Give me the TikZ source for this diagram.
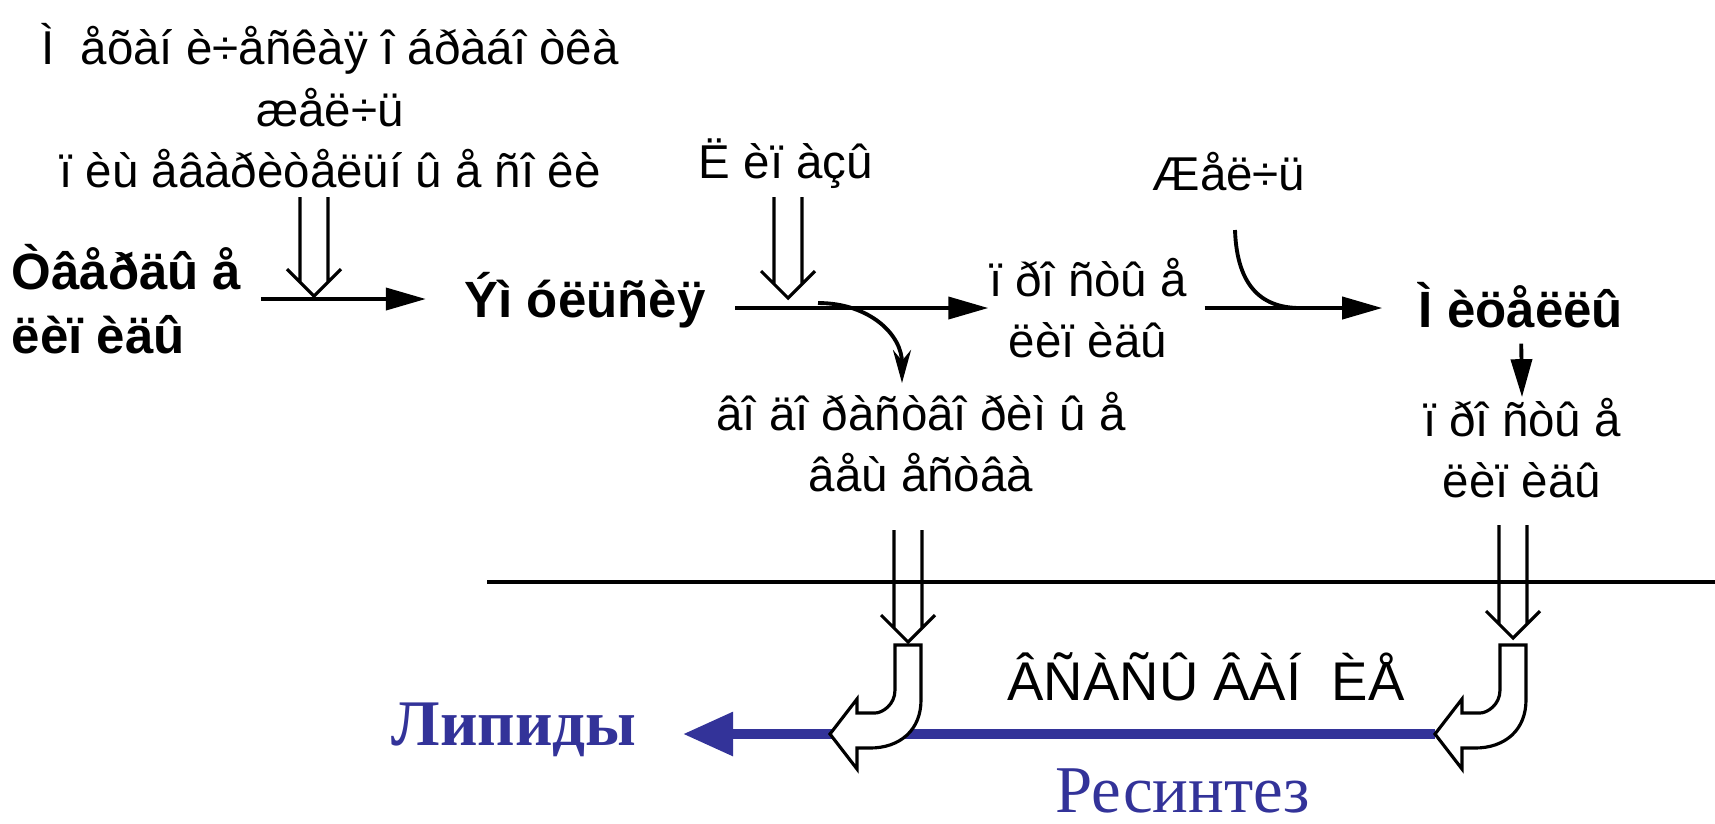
\documentclass[tikz,border=0pt]{standalone}
\usepackage{fontspec}
\setmainfont{Liberation Sans}
\newfontfamily\cyrserif{Liberation Serif}
\usetikzlibrary{arrows.meta,positioning,calc}
\definecolor{resblue}{RGB}{51,51,153}

\tikzset{
  txt/.style={font=\fontsize{13.5}{17.5}\selectfont, align=center, inner sep=0pt},
  txtb/.style={font=\fontsize{14.5}{18}\selectfont\bfseries, align=center, inner sep=0pt},
  flow/.style={line width=1.1pt, -{Triangle[length=4mm,width=2.2mm]}},
  bendline/.style={line width=1.1pt},
  hollow/.style={line width=0.9pt},
  resyn/.style={draw=resblue, line width=2.6pt, -{Triangle[length=5mm,width=4.2mm]}},
}

% open double arrow pointing down: #1 top, #2 tip
\newcommand{\dbldown}[2]{%
  \draw[hollow] ($(#1)+(-14,0)$) -- ($(#2)+(-14,-14)$)
                ($(#1)+(14,0)$) -- ($(#2)+(14,-14)$)
                ($(#2)+(-27,-27)$) -- (#2) -- ($(#2)+(27,-27)$);}

% open bent arrow, down then left: #1 top left corner of the shaft
\newcommand{\bentleft}[1]{%
  \draw[hollow, fill=white] (#1) -- ++(0,45)
    .. controls +(0,15) and +(7,0) .. ++(-20,23) -- ++(-18,0) -- ++(0,-14)
    -- ++(-27,35) -- ++(27,35) -- ++(0,-21) -- ++(13,0)
    .. controls +(30,0) and +(0,30) .. ++(51,-48) -- ++(0,-55) -- cycle;}

\begin{document}
\begin{tikzpicture}[x=0.01cm, y=-0.01cm]
  \useasboundingbox (0,0) rectangle (1715,823);

  %--- upper row ---
  \node[txt] (mech) at (330,106) {Ì~~åõàí è÷åñêàÿ î áðàáî òêà\\æåë÷ü\\ï èù åâàðèòåëüí û å ñî êè};
  \node[txtb, align=left, anchor=west] (solid) at (11,299) {Òâåðäû å\\ëèï èäû};
  \node[txtb] (emul) at (585,300) {Ýì óëüñèÿ};
  \node[txt] (lipase) at (786,164) {Ë èï àçû};
  \node[txt] (simple1) at (1088,308) {ï ðî ñòû å\\ëèï èäû};
  \node[txt] (water) at (921,442) {âî äî ðàñòâî ðèì û å\\âåù åñòâà};
  \node[txt] (bile) at (1229,172) {Æåë÷ü};
  \node[txtb] (micel) at (1521,305) {Ì èöåëëû};
  \node[txt] (simple2) at (1522,448) {ï ðî ñòû å\\ëèï èäû};

  \draw[flow, shorten <=1.9mm, shorten >=3.8mm] (solid.east) -- (emul.west |- solid.east);
  \draw[flow, shorten <=2.9mm] (emul.east |- simple1.west) -- (simple1.west);
  \draw[flow, shorten <=1.7mm, shorten >=3.6mm] (simple1.east) -- (micel.west |- simple1.east);
  \draw[line width=1.1pt, -{Triangle[length=3.8mm,width=2.1mm]}, shorten <=1.5mm] (micel.south) -- (simple2.north);

  % enzymes and bile
  \coordinate (t1) at (314,197); \coordinate (p1) at (314,296);
  \coordinate (t2) at (788,197); \coordinate (p2) at (788,298);
  \dbldown{t1}{p1}
  \dbldown{t2}{p2}

  \coordinate (c1s) at (818,303); \coordinate (c1e) at (902,383);
  \draw[bendline, -{Stealth[length=3.3mm,width=1.8mm]}] (c1s) .. controls (870,303) and (902,335) .. (c1e);
  \coordinate (c2s) at (1235,230); \coordinate (c2e) at (1300,308);
  \draw[bendline] (c2s) .. controls (1237,290) and (1265,308) .. (c2e);

  %--- membrane ---
  \draw[line width=1.1pt] (487,582) -- (1715,582);
  \coordinate (t3) at (908,530); \coordinate (p3) at (908,642);
  \coordinate (t4) at (1513,525); \coordinate (p4) at (1513,638);
  \dbldown{t3}{p3}
  \dbldown{t4}{p4}

  \node[font=\fontsize{15.5}{18}\selectfont, inner sep=0pt, anchor=base] (absorb) at (1206,700) {ÂÑÀÑÛ ÂÀÍ~~ÈÅ};

  %--- resynthesis ---
  \node[font=\cyrserif\bfseries\fontsize{18.5}{22}\selectfont, text=resblue, inner sep=0pt, anchor=base] (lipids) at (514,745) {Липиды};
  \node[font=\cyrserif\fontsize{19}{22}\selectfont, text=resblue, inner sep=0pt, anchor=base] (resynth) at (1183,812) {Ресинтез};

  \coordinate (jl) at (895,645);
  \coordinate (jr) at (1500,645);
  \coordinate (jtip) at ($(jr)+(-65,89)$);
  \draw[resyn, shorten >=4.6mm] (jtip) -- (lipids.east |- jtip);
  \bentleft{jl}
  \bentleft{jr}
\end{tikzpicture}
\end{document}
